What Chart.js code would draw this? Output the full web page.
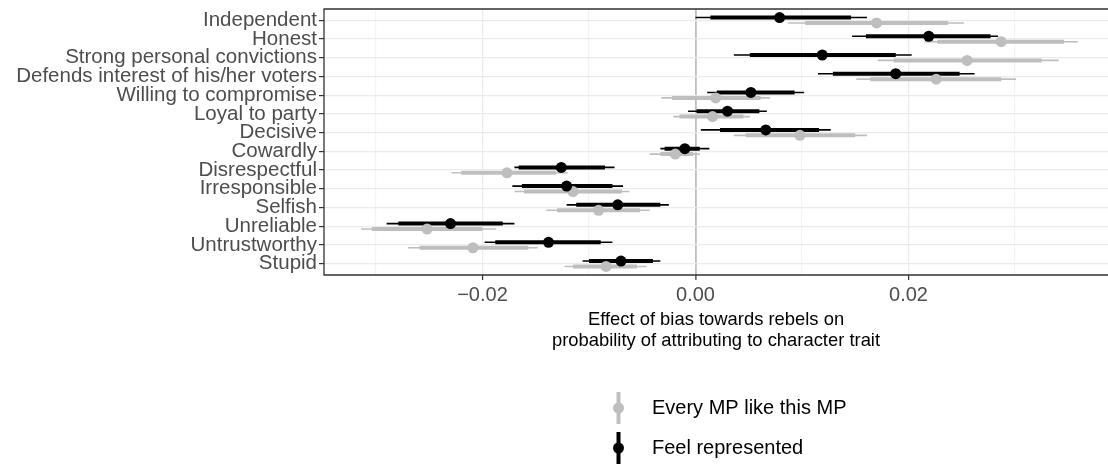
<!DOCTYPE html>
<html>
<head>
<meta charset="utf-8">
<script src="https://cdn.jsdelivr.net/npm/chart.js@4.4.1/dist/chart.umd.min.js"></script>
<style>
  html, body { margin: 0; padding: 0; background: #fff; }
</style>
</head>
<body>
<canvas id="traitChart" width="1108" height="464"></canvas>
<script>
const traits = [
  "Independent", "Honest", "Strong personal convictions", "Defends interest of his/her voters",
  "Willing to compromise", "Loyal to party", "Decisive", "Cowardly", "Disrespectful",
  "Irresponsible", "Selfish", "Unreliable", "Untrustworthy", "Stupid",
];
const seriesNames = ["Every MP like this MP", "Feel represented"];

// "Every MP like this MP" (grey): estimate, thick interval, thin interval
const everyEst = [0.0170, 0.0287, 0.0255, 0.0226, 0.0019, 0.0016, 0.0098, -0.0019, -0.0177, -0.0115, -0.0091, -0.0252, -0.0209, -0.0084];
const everyLoThick = [0.0103, 0.0227, 0.0186, 0.0164, -0.0022, -0.0015, 0.0047, -0.0033, -0.0220, -0.0161, -0.0130, -0.0304, -0.0259, -0.0115];
const everyHiThick = [0.0237, 0.0346, 0.0325, 0.0287, 0.0061, 0.0045, 0.0150, -0.0002, -0.0131, -0.0069, -0.0052, -0.0200, -0.0157, -0.0055];
const everyLoThin = [0.0087, 0.0215, 0.0171, 0.0151, -0.0032, -0.0021, 0.0036, -0.0043, -0.0229, -0.0170, -0.0140, -0.0314, -0.0270, -0.0123];
const everyHiThin = [0.0252, 0.0359, 0.0341, 0.0301, 0.0070, 0.0051, 0.0161, 0.0004, -0.0120, -0.0062, -0.0043, -0.0187, -0.0148, -0.0046];

// "Feel represented" (black)
const feelEst = [0.0079, 0.0219, 0.0119, 0.0188, 0.0052, 0.0030, 0.0066, -0.0010, -0.0126, -0.0121, -0.0073, -0.0230, -0.0138, -0.0070];
const feelLoThick = [0.0014, 0.0160, 0.0051, 0.0129, 0.0020, 0.0001, 0.0023, -0.0029, -0.0166, -0.0163, -0.0112, -0.0279, -0.0188, -0.0100];
const feelHiThick = [0.0146, 0.0277, 0.0188, 0.0248, 0.0093, 0.0060, 0.0116, 0.0004, -0.0085, -0.0078, -0.0033, -0.0181, -0.0089, -0.0040];
const feelLoThin = [0.0000, 0.0147, 0.0036, 0.0115, 0.0011, -0.0007, 0.0005, -0.0033, -0.0170, -0.0172, -0.0121, -0.0290, -0.0198, -0.0106];
const feelHiThin = [0.0161, 0.0284, 0.0203, 0.0262, 0.0102, 0.0067, 0.0127, 0.0013, -0.0076, -0.0068, -0.0025, -0.0170, -0.0078, -0.0033];

const xTickValues = [-0.03, -0.02, -0.01, 0, 0.01, 0.02, 0.03];
const xTickLabels = ["", "\u22120.02", "", "0.00", "", "0.02", ""];

const GREY = "#bebebe";
const BLACK = "#000000";
const DODGE = 0.145;
const FONT = "'Liberation Sans', Arial, Helvetica, sans-serif";

function rangePoints(lo, hi, shift) {
  const pts = [];
  lo.forEach((v, i) => {
    pts.push({ x: v, y: i + shift }, { x: hi[i], y: i + shift }, { x: null, y: null });
  });
  return pts;
}

function estPoints(est, shift) {
  return est.map((v, i) => ({ x: v, y: i + shift }));
}

function rangeDataset(label, lo, hi, shift, color, width, order) {
  return {
    label: label,
    data: rangePoints(lo, hi, shift),
    borderColor: color,
    borderWidth: width,
    borderCapStyle: "butt",
    pointRadius: 0,
    spanGaps: false,
    order: order,
  };
}

function pointDataset(label, est, shift, color, order) {
  return {
    label: label,
    data: estPoints(est, shift),
    showLine: false,
    pointRadius: 5.5,
    pointHoverRadius: 5.5,
    pointBackgroundColor: color,
    pointBorderWidth: 0,
    order: order,
  };
}

// panel border (the right edge is cropped off in the original)
const chartAreaBorder = {
  id: "chartAreaBorder",
  afterDatasetsDraw(chart) {
    const { ctx, chartArea } = chart;
    ctx.save();
    ctx.strokeStyle = "#333333";
    ctx.lineWidth = 1.3;
    ctx.beginPath();
    ctx.moveTo(chartArea.right, chartArea.top);
    ctx.lineTo(chartArea.left, chartArea.top);
    ctx.lineTo(chartArea.left, chartArea.bottom);
    ctx.lineTo(chartArea.right, chartArea.bottom);
    ctx.stroke();
    ctx.restore();
  },
};

// legend drawn as vertical pointrange glyphs below the axis title
const pointrangeLegend = {
  id: "pointrangeLegend",
  afterDraw(chart) {
    const ctx = chart.ctx;
    const rows = [
      { text: seriesNames[0], color: GREY, y: 408 },
      { text: seriesNames[1], color: BLACK, y: 448 },
    ];
    ctx.save();
    rows.forEach((row) => {
      ctx.strokeStyle = row.color;
      ctx.lineWidth = 4;
      ctx.beginPath();
      ctx.moveTo(618.5, row.y - 16);
      ctx.lineTo(618.5, row.y + 16);
      ctx.stroke();
      ctx.fillStyle = row.color;
      ctx.beginPath();
      ctx.arc(618.5, row.y, 5.5, 0, Math.PI * 2);
      ctx.fill();
      ctx.fillStyle = "#000";
      ctx.font = "20px " + FONT;
      ctx.textBaseline = "middle";
      ctx.textAlign = "left";
      ctx.fillText(row.text, 652, row.y);
    });
    ctx.restore();
  },
};

const ctx = document.getElementById("traitChart").getContext("2d");

new Chart(ctx, {
  type: "line",
  data: {
    datasets: [
      rangeDataset(seriesNames[0], everyLoThin, everyHiThin, DODGE, GREY, 1.6, 6),
      rangeDataset(seriesNames[1], feelLoThin, feelHiThin, -DODGE, BLACK, 1.6, 5),
      rangeDataset(seriesNames[0], everyLoThick, everyHiThick, DODGE, GREY, 4, 4),
      rangeDataset(seriesNames[1], feelLoThick, feelHiThick, -DODGE, BLACK, 4, 3),
      pointDataset(seriesNames[0], everyEst, DODGE, GREY, 2),
      pointDataset(seriesNames[1], feelEst, -DODGE, BLACK, 1),
    ],
  },
  options: {
    responsive: false,
    devicePixelRatio: 1,
    animation: false,
    layout: {
      autoPadding: false,
      padding: { top: 9, right: 0, bottom: 109, left: 0 },
    },
    plugins: {
      legend: { display: false },
      tooltip: { enabled: false },
    },
    scales: {
      x: {
        type: "linear",
        position: "bottom",
        min: -0.03488,
        max: 0.03873,
        afterBuildTicks: (scale) => {
          scale.ticks = xTickValues.map((v) => ({ value: v }));
        },
        afterFit: (scale) => {
          scale.height = 80;
        },
        ticks: {
          autoSkip: false,
          maxRotation: 0,
          padding: 3,
          color: "#4d4d4d",
          font: { family: FONT, size: 20 },
          callback: (value, index) => xTickLabels[index],
        },
        grid: {
          color: (c) => {
            if (c.tick && c.tick.value === 0) return GREY;
            return xTickLabels[c.index] ? "#ebebeb" : "#f3f3f3";
          },
          lineWidth: (c) => (c.tick && c.tick.value === 0 ? 1.8 : 1.2),
          tickColor: (c) => (xTickLabels[c.index] ? "#333333" : "rgba(0,0,0,0)"),
          tickWidth: 1.2,
          tickLength: 5,
        },
        border: { display: false },
        title: {
          display: true,
          text: ["Effect of bias towards rebels on", "probability of attributing to character trait"],
          color: "#000000",
          font: { family: FONT, size: 18.4, lineHeight: 1.12 },
          padding: { top: 0, bottom: 4 },
        },
      },
      y: {
        type: "linear",
        reverse: true,
        min: -0.6,
        max: 13.6,
        afterBuildTicks: (scale) => {
          scale.ticks = traits.map((t, i) => ({ value: i }));
        },
        afterFit: (scale) => {
          scale.width = 324;
        },
        ticks: {
          autoSkip: false,
          padding: 2,
          color: "#4d4d4d",
          font: { family: FONT, size: 20.5, lineHeight: 0.6 },
          callback: (value) => traits[value],
        },
        grid: {
          color: "#ebebeb",
          lineWidth: 1.2,
          tickColor: "#333333",
          tickWidth: 1.2,
          tickLength: 5,
        },
        border: { display: false },
      },
    },
  },
  plugins: [chartAreaBorder, pointrangeLegend],
});
</script>
</body>
</html>
